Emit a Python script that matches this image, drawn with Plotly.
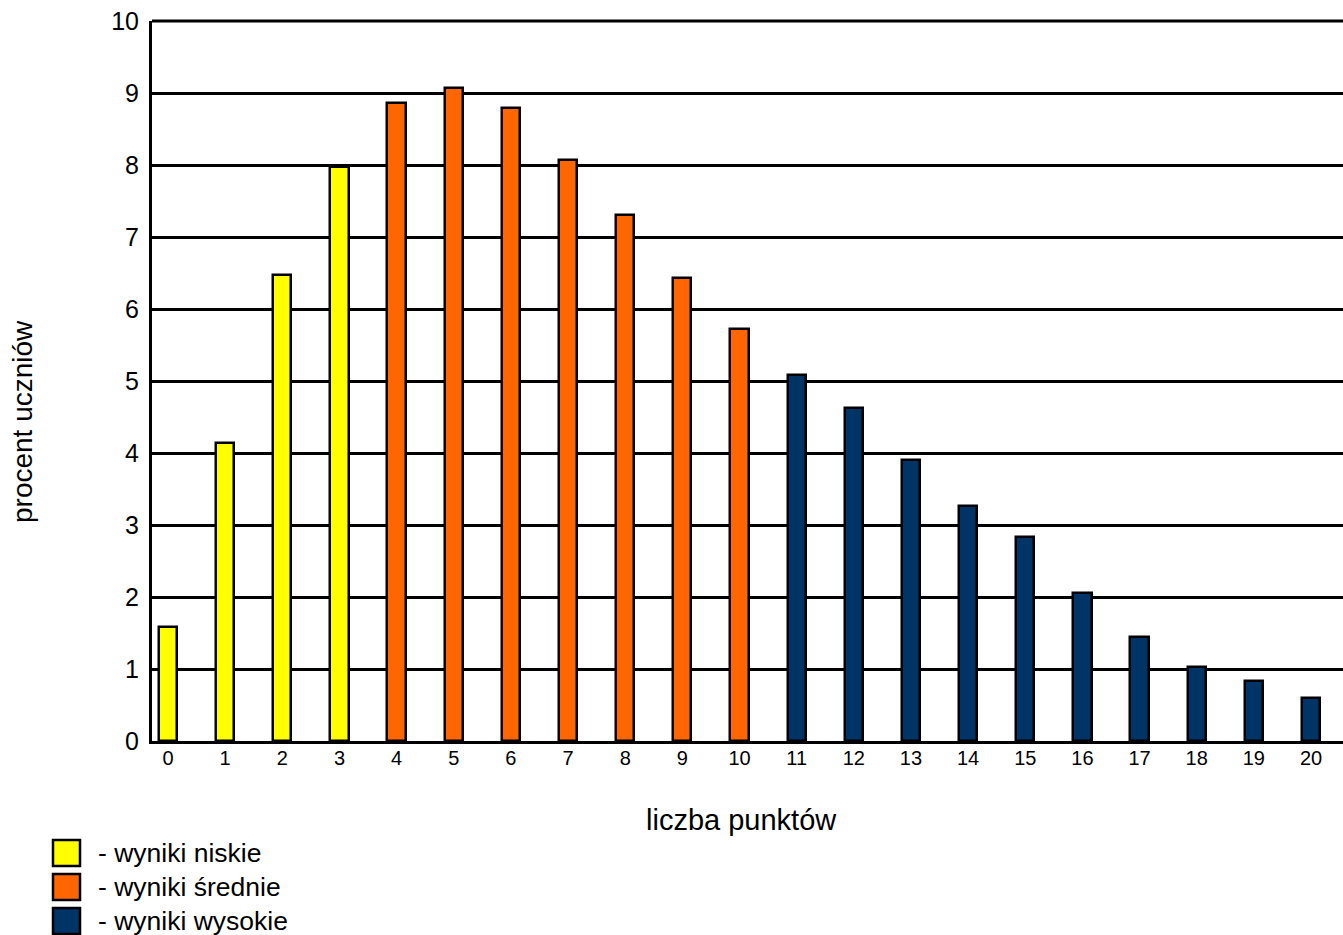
import plotly.graph_objects as go

points = list(range(21))
values = [1.58, 4.14, 6.47, 7.97, 8.86, 9.07, 8.79, 8.07, 7.31, 6.44, 5.72,
          5.08, 4.62, 3.90, 3.26, 2.83, 2.06, 1.44, 1.03, 0.83, 0.60]
groups = ["- wyniki niskie", "- wyniki średnie", "- wyniki wysokie"]
group_ranges = [(0, 3), (4, 10), (11, 20)]
colors = ["#ffff00", "#ff6600", "#003366"]

W, H = 1343, 935
ML, MR, MT, MB = 152, 0, 21, 194
PW, PH = W - ML - MR, H - MT - MB

def px_x(p):
    return (p - ML) / PW

def px_y(p):
    return (H - MB - p) / PH

fig = go.Figure()
for name, (a, b), c in zip(groups, group_ranges, colors):
    xs = points[a:b + 1]
    ys = values[a:b + 1]
    fig.add_trace(go.Bar(x=xs, y=ys, name=name, marker=dict(color=c, line=dict(color="black", width=2.5)),
                         width=0.32, showlegend=False))

font = "Liberation Sans, Arial, sans-serif"

shapes = [dict(type="line", xref="paper", yref="paper", x0=0, x1=1, y0=1, y1=1,
               line=dict(color="black", width=3))]
annotations = []
box_tops = [840, 874, 908]
for name, c, top in zip(groups, colors, box_tops):
    shapes.append(dict(type="rect", xref="paper", yref="paper",
                       x0=px_x(53), x1=px_x(80), y0=px_y(top), y1=px_y(top + 26),
                       fillcolor=c, line=dict(color="black", width=2.5)))
    annotations.append(dict(text=name, xref="paper", yref="paper", x=px_x(96), y=px_y(top + 13),
                            xanchor="left", yanchor="middle", showarrow=False,
                            font=dict(family=font, size=26.5, color="black")))

annotations.append(dict(text="liczba punktów", xref="paper", yref="paper", x=px_x(741), y=px_y(820),
                        xanchor="center", yanchor="middle", showarrow=False,
                        font=dict(family=font, size=29, color="black")))
annotations.append(dict(text="procent uczniów", xref="paper", yref="paper", x=px_x(22), y=px_y(422),
                        xanchor="center", yanchor="middle", showarrow=False, textangle=-90,
                        font=dict(family=font, size=28, color="black")))

fig.update_layout(
    width=W, height=H,
    margin=dict(l=ML, r=MR, t=MT, b=MB),
    plot_bgcolor="white", paper_bgcolor="white",
    bargap=0,
    shapes=shapes, annotations=annotations,
    font=dict(family=font, color="black"),
    xaxis=dict(range=[-0.28, 20.56], tickmode="array", tickvals=points, ticktext=[str(p) for p in points],
               showgrid=False, showline=True, linecolor="black", linewidth=3,
               ticks="", tickfont=dict(family=font, size=20, color="black"), zeroline=False,
               ticklabelstandoff=-3),
    yaxis=dict(range=[0, 10.004], tickmode="array", tickvals=list(range(11)),
               showgrid=True, gridcolor="black", gridwidth=2.5,
               showline=True, linecolor="black", linewidth=3, ticks="",
               tickfont=dict(family=font, size=25, color="black"), zeroline=False,
               ticklabelstandoff=5),
)

fig.write_html("out.html", config={"displayModeBar": False},
               post_script="document.body.style.margin='0';document.body.style.overflow='hidden';")
